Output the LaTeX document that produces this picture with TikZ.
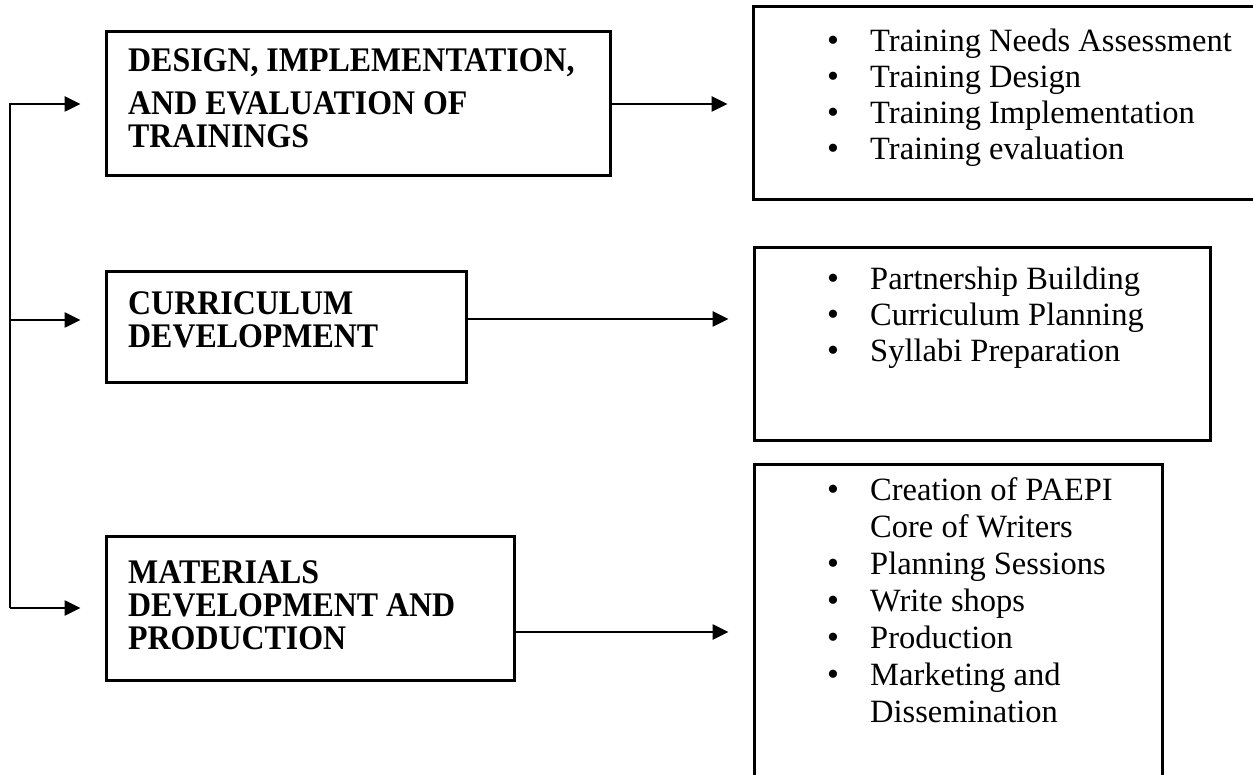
\documentclass[tikz,border=0pt]{standalone}
\usepackage{fontspec}
\setmainfont{Liberation Serif}
\newfontfamily\condbold[FakeStretch=0.925]{Liberation Serif Bold}
\usetikzlibrary{arrows.meta}
\begin{document}
\begin{tikzpicture}[x=1pt,y=-1pt,
  box/.style={draw,line width=3pt,inner sep=0pt},
  conn/.style={line width=2.6pt},
  arr/.style={conn,-{Triangle[length=16pt,width=15pt]}},
  lbl/.style={anchor=base west,inner sep=0pt,font=\fontsize{34.5}{37}\condbold},
  itm/.style={anchor=base west,inner sep=0pt,font=\fontsize{32.5}{37}\selectfont},
  bul/.style={anchor=base,inner sep=0pt,font=\fontsize{34}{37}\selectfont}]
\useasboundingbox (0,0) rectangle (1253,775);
% left boxes
\node[box,minimum width=504pt,minimum height=144pt] (A) at (358,104) {};
\node[box,minimum width=360pt,minimum height=111pt] (B) at (286,327.5) {};
\node[box,minimum width=408pt,minimum height=144pt] (C) at (310,608) {};
% right boxes
\node[box,minimum width=510pt,minimum height=193pt] (R1) at (1008,103.5) {};
\node[box,minimum width=456pt,minimum height=192pt] (R2) at (982,344) {};
\node[box,minimum width=408pt,minimum height=330pt] (R3) at (958,629) {};
% left box texts
\node[lbl] (a1) at (128,72) {DESIGN, IMPLEMENTATION,};
\node[lbl] (a2) at (128,115) {AND EVALUATION OF};
\node[lbl] (a3) at (128,148) {TRAININGS};
\node[lbl] (b1) at (128,315) {CURRICULUM};
\node[lbl] (b2) at (128,348) {DEVELOPMENT};
\node[lbl] (c1) at (128,583) {MATERIALS};
\node[lbl] (c2) at (128,616) {DEVELOPMENT AND};
\node[lbl] (c3) at (128,649) {PRODUCTION};
% right box items
\foreach \y/\t [count=\i] in {52/Training Needs Assessment,88/Training Design,124/Training Implementation,160/Training evaluation}{
  \node[bul] (p\i) at (833,\y) {•};
  \node[itm] (q\i) at (870,\y) {\t};
}
\foreach \y/\t [count=\i] in {290/Partnership Building,326/Curriculum Planning,362/Syllabi Preparation}{
  \node[bul] (r\i) at (833,\y) {•};
  \node[itm] (s\i) at (870,\y) {\t};
}
\foreach \y/\t [count=\i] in {500/Creation of PAEPI,574/Planning Sessions,611/Write shops,648/Production,685/Marketing and}{
  \node[bul] (u\i) at (833,\y) {•};
  \node[itm] (v\i) at (870,\y) {\t};
}
\node[itm] (w1) at (870,537) {Core of Writers};
\node[itm] (w2) at (870,722) {Dissemination};
% connectors
\coordinate (sC) at (10,608);
\coordinate (yB) at (0,320);
\coordinate (yBo) at (0,319);
\coordinate (yCo) at (0,632);
\draw[arr,shorten >=24pt] (sC) |- (A.west);
\draw[arr,shorten >=24pt] (sC |- yB) -- (B.west |- yB);
\draw[arr,shorten >=24pt] (sC) -- (C.west);
\draw[arr,shorten >=24pt] (A.east) -- (R1.west |- A.east);
\draw[arr,shorten >=24pt] (B.east |- yBo) -- (R2.west |- yBo);
\draw[arr,shorten >=24pt] (C.east |- yCo) -- (R3.west |- yCo);
\end{tikzpicture}
\end{document}
